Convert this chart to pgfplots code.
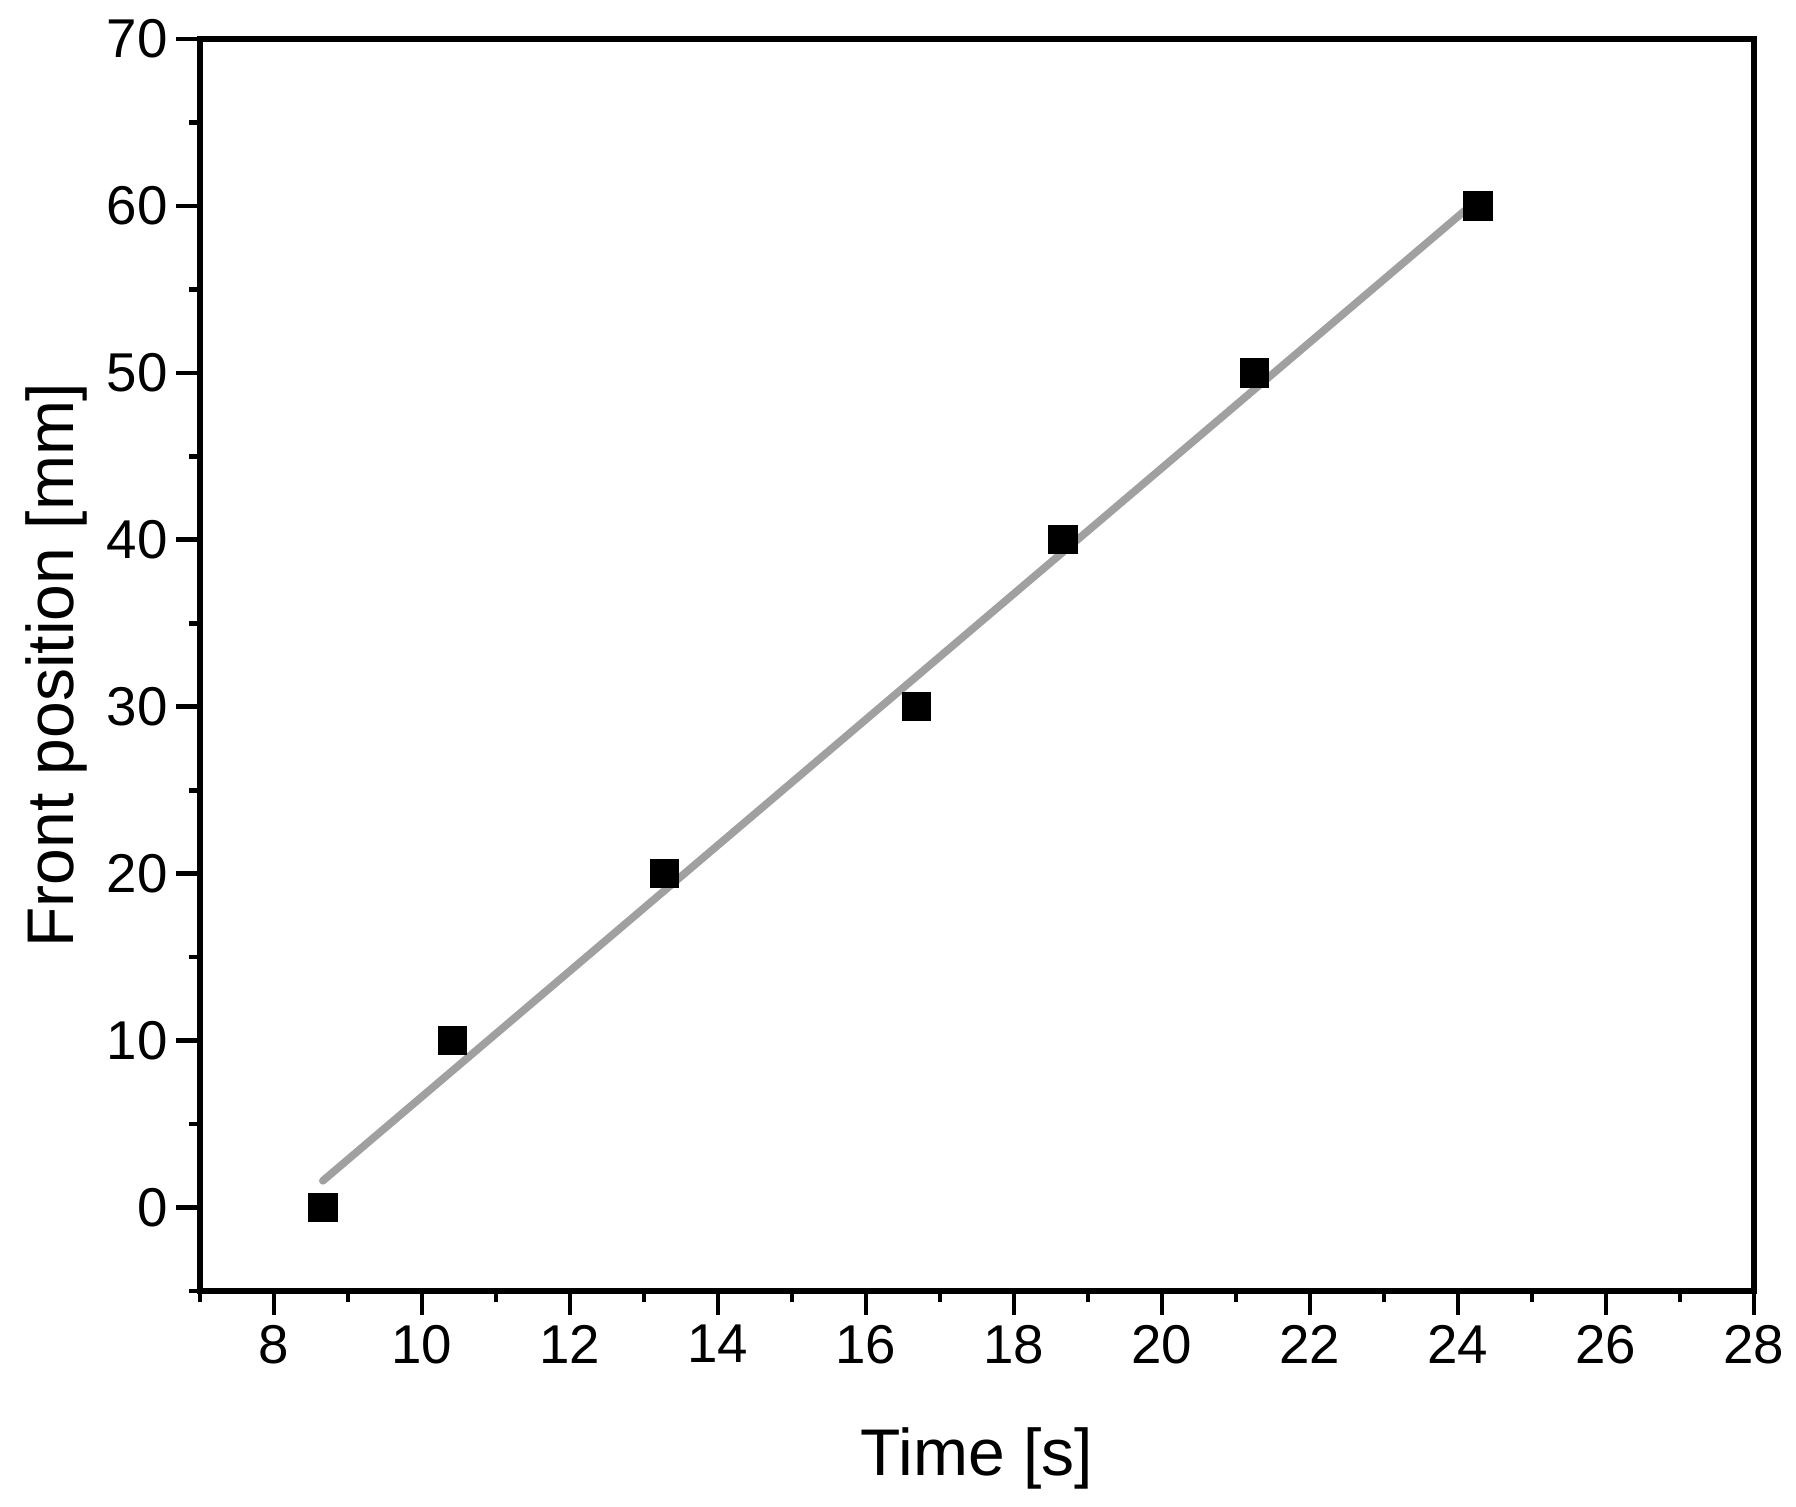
\documentclass[border=0pt]{standalone}
\usepackage{fontspec}
\setmainfont{Liberation Sans}
\usepackage{pgfplots}
\pgfplotsset{compat=1.18}
\definecolor{fitgray}{RGB}{160,160,160}
\begin{document}
\begin{tikzpicture}
\begin{axis}[
  at={(0,0)}, anchor=south west,
  scale only axis, width=466.2pt, height=375.6pt,
  xmin=7, xmax=28, ymin=-5, ymax=70,
  xtick={8,10,...,28}, ytick={0,10,...,70},
  minor xtick={7,9,...,27}, minor ytick={-5,5,...,65},
  xtick pos=bottom, ytick pos=left,
  tick align=outside,
  major tick length=7.2pt, minor tick length=3.3pt,
  every tick/.append style={black, line width=1.4pt},
  axis line style={line width=1.6pt},
  /pgf/number format/assume math mode=true,
  ticklabel style={font=\fontsize{16.4}{19}\selectfont},
  yticklabel style={xshift=1pt},
  xticklabel style={yshift=0.5pt},
  label style={font=\fontsize{19.8}{23}\selectfont},
  xlabel={Time [s]}, ylabel={Front position [mm]},
  xlabel style={at={(axis description cs:0.5,-0.147)}, anchor=base},
  ylabel style={at={(axis description cs:-0.0817,0.5)}, anchor=base},
]
\addplot[only marks, mark=square*, mark size=4.2pt, black] coordinates {
  (8.66,0) (10.41,10) (13.28,20) (16.68,30) (18.66,40) (21.25,50) (24.27,60)
};
\addplot[color=fitgray, line width=2.3pt, line cap=round] coordinates {
  (8.66,1.6) (24.3,60.5)
};
\end{axis}
\pgfresetboundingbox
\path[use as bounding box] (-60pt,-64.8pt) rectangle (478.8pt,387.3pt);
\end{tikzpicture}
\end{document}
